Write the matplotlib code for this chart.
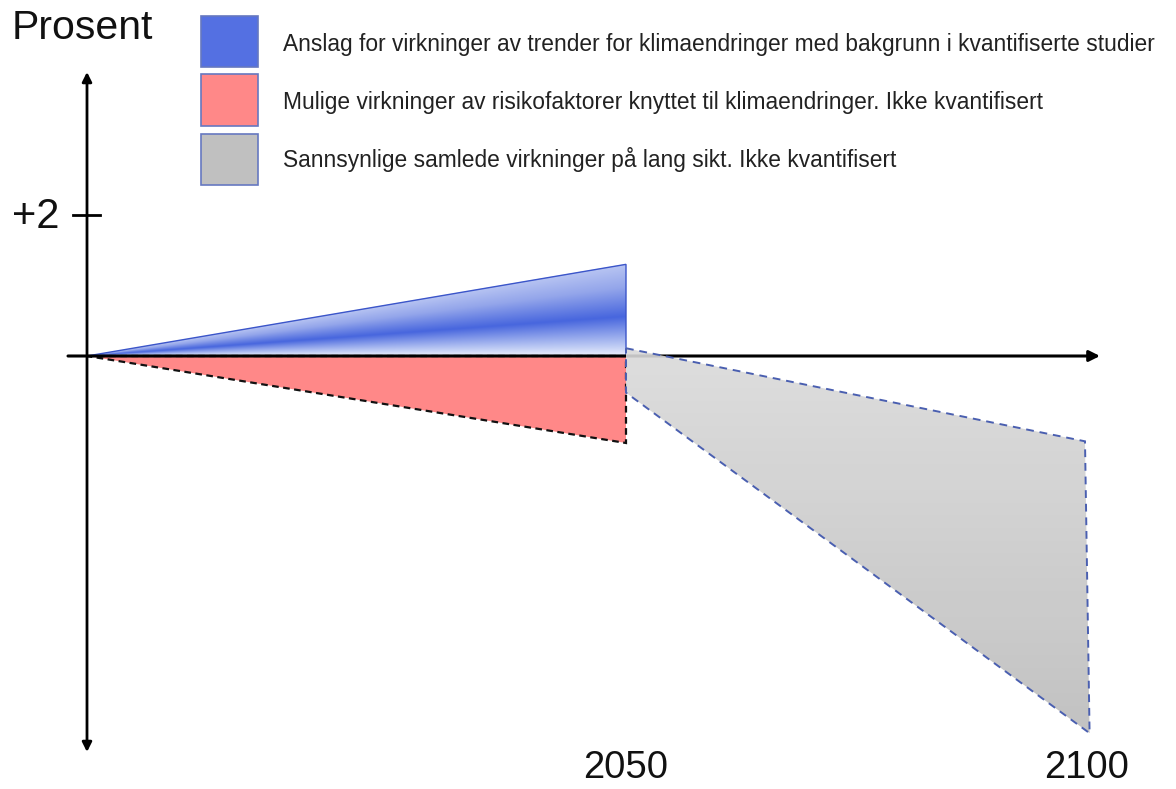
import numpy as np
import matplotlib
matplotlib.use("Agg")
import matplotlib.pyplot as plt
from matplotlib.patches import Polygon, Rectangle
from matplotlib.colors import LinearSegmentedColormap

plt.rcParams['font.family'] = ['Liberation Sans', 'DejaVu Sans']

# ---- data (schematic values, percent) ----
x_start = 1991.3
years = [x_start, 2050, 2100]
blue_top_2050 = 1.30           # quantified trend effects, upper bound at 2050
red_bottom_2050 = -1.23        # possible risk-factor effects at 2050
gray_x = [2050, 2100, 2100.5, 2050]
gray_y = [0.11, -1.21, -5.35, -0.52]   # long-term total effects
y_tick_vals = [2]
y_tick_labels = ["+2"]
x_labels = ["2050", "2100"]
legend_labels = [
    "Anslag for virkninger av trender for klimaendringer med bakgrunn i kvantifiserte studier",
    "Mulige virkninger av risikofaktorer knyttet til klimaendringer. Ikke kvantifisert",
    "Sannsynlige samlede virkninger på lang sikt. Ikke kvantifisert",
]
legend_colors = ["#5470e2", "#ff8888", "#c0c0c0"]

# ---- figure ----
W, H = 1176, 789
fig = plt.figure(figsize=(W / 100, H / 100), dpi=100)
ax = fig.add_axes([0, 0, 1, 1])
px_per_year = 9.18
px_per_unit = 70.5
x_left = 2050 - 626 / px_per_year
ax.set_xlim(x_left, x_left + W / px_per_year)
y_top = 356 / px_per_unit
ax.set_ylim(y_top - H / px_per_unit, y_top)
ax.axis('off')

# ---- blue gradient triangle ----
x0, x1 = years[0], years[1]
nx, ny = 400, 300
gx = np.linspace(x0, x1, nx)
gy = np.linspace(0, blue_top_2050, ny)
GX, GY = np.meshgrid(gx, gy)
ytop = blue_top_2050 * (GX - x0) / (x1 - x0)
t = np.clip(GY / np.maximum(ytop, 1e-9), 0, 1)
stops_t = [0.0, 0.10, 0.43, 0.75, 1.0]
stops_c = np.array([[0.93, 0.94, 0.99],
                    [0.76, 0.81, 0.96],
                    [0.28, 0.40, 0.87],
                    [0.58, 0.65, 0.92],
                    [0.72, 0.77, 0.95]])
img = np.zeros(t.shape + (3,))
for k in range(3):
    img[..., k] = np.interp(t, stops_t, stops_c[:, k])
blue_poly = Polygon([(x0, 0), (x1, 0), (x1, blue_top_2050)], closed=True,
                    facecolor='none', edgecolor='#3b55c9', lw=1.0, zorder=3)
ax.add_patch(blue_poly)
im = ax.imshow(img, extent=(x0, x1, 0, blue_top_2050), origin='lower',
               aspect='auto', zorder=2, interpolation='bilinear')
im.set_clip_path(blue_poly)

# ---- red triangle ----
red_poly = Polygon([(x0, 0), (x1, 0), (x1, red_bottom_2050)], closed=True,
                   facecolor='#ff8888', edgecolor='#111111', lw=1.6,
                   linestyle=(0, (3, 2)), zorder=2)
ax.add_patch(red_poly)

# ---- axes lines ----
ax.annotate('', xy=(x_left + 1100 / px_per_year, 0),
            xytext=(x_left + 68 / px_per_year, 0),
            arrowprops=dict(arrowstyle='-|>', lw=2.2, color='black',
                            mutation_scale=16, shrinkA=0, shrinkB=0), zorder=4)
yx = x_left + 87 / px_per_year
ax.annotate('', xy=(yx, y_top - 72 / px_per_unit),
            xytext=(yx, y_top - 752 / px_per_unit),
            arrowprops=dict(arrowstyle='<|-|>', lw=2.0, color='black',
                            mutation_scale=14, shrinkA=0, shrinkB=0), zorder=4)
for v, lab in zip(y_tick_vals, y_tick_labels):
    ax.plot([x_left + 73 / px_per_year, x_left + 100 / px_per_year], [v, v],
            color='black', lw=2.0, zorder=4)
    ax.text(x_left + 12 / px_per_year, v - 0.03, lab, fontsize=30, ha='left',
            va='center', color='#111111')

# ---- gray region (gradient) ----
gray_poly = Polygon(list(zip(gray_x, gray_y)), closed=True, facecolor='none',
                    edgecolor='#4a5fb0', lw=1.4, linestyle=(0, (4, 3)), zorder=6)
ax.add_patch(gray_poly)
gg = np.linspace(0, 1, 200)[:, None] * np.ones((1, 50))
gcm = LinearSegmentedColormap.from_list('g', ['#bcbcbc', '#dadada'])
gim = ax.imshow(gg, extent=(min(gray_x), max(gray_x), min(gray_y), max(gray_y)),
                origin='lower', aspect='auto', cmap=gcm, zorder=5, alpha=0.9,
                interpolation='bilinear')
gim.set_clip_path(gray_poly)

# ---- x labels ----
for yr, lab in zip([2050, 2100.2], x_labels):
    ax.text(yr, y_top - 768 / px_per_unit, lab, fontsize=27.5, ha='center',
            va='center', color='#111111')

ax.text(x_left + 12 / px_per_year, y_top - 28 / px_per_unit, "Prosent",
        fontsize=29.5, ha='left', va='center', color='#111111')

# ---- legend ----
sw = [(16, 67), (74, 126), (134, 185)]
ty = [44, 102, 160]
for (top, bot), c, lab, yc in zip(sw, legend_colors, legend_labels, ty):
    ax.add_patch(Rectangle((201 / W, 1 - bot / H), 57 / W, (bot - top) / H,
                           transform=ax.transAxes, facecolor=c,
                           edgecolor='#6678c0', lw=1.2, zorder=7))
    ax.text(283 / W, 1 - yc / H, lab, transform=ax.transAxes, fontsize=16.4,
            ha='left', va='center', color='#222222')

fig.savefig('out.png', dpi=100)
